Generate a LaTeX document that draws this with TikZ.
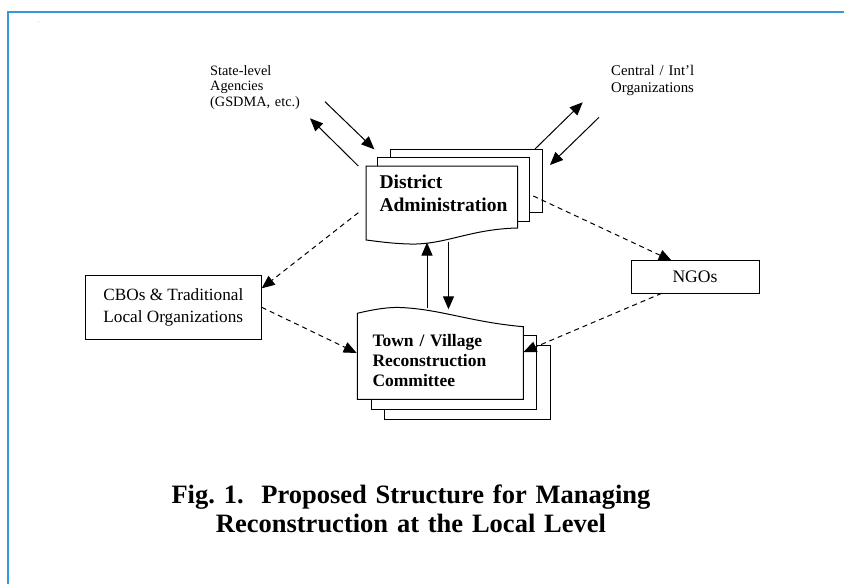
\documentclass[tikz,border=0pt]{standalone}
\usepackage{fontspec}
\setmainfont{Liberation Serif}
\usetikzlibrary{arrows.meta}
\definecolor{frameblue}{RGB}{52,152,219}
\frenchspacing
\begin{document}
\frenchspacing
\begin{tikzpicture}[x=1pt,y=-1pt,
  conn/.style={line width=1pt,-{Triangle[length=13pt,width=11pt]}},
  dconn/.style={conn,dash pattern=on 5pt off 4pt},
  pagestyle/.style={draw,line width=1pt,fill=white},
  boxstyle/.style={draw,line width=1pt,inner sep=0pt,align=left},
  lbl/.style={inner sep=0pt,anchor=base west,align=left}]
\useasboundingbox (0,0) rectangle (844,584);
\fill[white] (0,0) rectangle (844,584);
% frame
\draw[frameblue,line width=2.2pt] (8.3,584) -- (8.3,12) -- (844,12);
\node[inner sep=0pt,text=gray,font=\fontsize{6}{6}\selectfont] (dot) at (38.3,22) {.};

% District Administration stack
\draw[pagestyle] (390.3,149.3) rectangle (542.3,212.7);
\draw[pagestyle] (377.7,157.3) rectangle (529.3,221);
\draw[pagestyle] (366,166) -- (517.7,166) -- (517.7,228)
  .. controls (470,229) and (445,245) .. (410,244)
  .. controls (390,243.5) and (375,241) .. (366,240) -- cycle;
\node[lbl,text width=140pt,font=\fontsize{19.5}{23.7}\selectfont\bfseries] (da) at (379.3,188) {District\\Administration};

% Town / Village stack
\draw[pagestyle] (384.3,345) rectangle (550,419.3);
\draw[pagestyle] (371.7,335) rectangle (536.7,409.3);
\draw[pagestyle] (357.3,399.3) -- (357.3,313.3)
  .. controls (375,309) and (390,307) .. (400,307.5)
  .. controls (440,309) and (470,322) .. (523.3,326.7) -- (523.3,399.3) -- cycle;
\node[lbl,text width=140pt,font=\fontsize{17.5}{20}\selectfont\bfseries] (tv) at (372.3,346.7) {Town / Village\\Reconstruction\\Committee};

% other boxes
\node[boxstyle,minimum width=176.7pt,minimum height=63.6pt,font=\fontsize{17.2}{21.7}\selectfont] (cbo) at (173.35,307.5) {CBOs \& Traditional\\Local Organizations};
\node[boxstyle,minimum width=128pt,minimum height=32.6pt,font=\fontsize{17.6}{20}\selectfont] (ngo) at (695,277) {NGOs};

% external labels
\node[lbl,text width=120pt,font=\fontsize{14.3}{15.5}\selectfont] (sla) at (210,75) {State-level\\Agencies\\(GSDMA, etc.)};
\node[lbl,text width=120pt,font=\fontsize{14.8}{17}\selectfont] (cio) at (611,75.5) {Central / Int'l\\Organizations};

% caption
\node[inner sep=0pt,anchor=base,text width=560pt,align=center,font=\fontsize{26.5}{29}\selectfont\bfseries] (cap) at (411,503.3) {Fig. 1.\ \ Proposed Structure for Managing\\Reconstruction at the Local Level};

% connector end points
\coordinate (slaIn) at (325,101.7);   \coordinate (daIn) at (374.3,149.3);
\coordinate (daOut) at (358.3,166);   \coordinate (slaOut) at (310,118.3);
\coordinate (daOutC) at (535,149);    \coordinate (cioOut) at (582.7,102.3);
\coordinate (cioIn) at (599,117.3);   \coordinate (daInC) at (550,165);
\coordinate (tvUp) at (427,307.5);    \coordinate (daBot) at (427,242.5);
\coordinate (daDown) at (448.5,241.7); \coordinate (tvTop) at (448.5,309.3);
\coordinate (daNgo) at (533.3,196);   \coordinate (ngoTop) at (671.7,260.7);
\coordinate (ngoBot) at (661.7,293.3); \coordinate (tvRight) at (523.5,352);
\coordinate (daCbo) at (358.3,212.7); \coordinate (cboRight) at (261.7,288.3);
\coordinate (cboOut) at (261.7,307.3); \coordinate (tvLeft) at (356.7,353);

\draw[conn] (slaIn) -- (daIn);
\draw[conn] (daOut) -- (slaOut);
\draw[conn] (daOutC) -- (cioOut);
\draw[conn] (cioIn) -- (daInC);
\draw[conn] (tvUp) -- (daBot);
\draw[conn] (daDown) -- (tvTop);
\draw[dconn] (daNgo) -- (ngoTop);
\draw[dconn] (ngoBot) -- (tvRight);
\draw[dconn] (daCbo) -- (cboRight);
\draw[dconn] (cboOut) -- (tvLeft);
\end{tikzpicture}
\end{document}
